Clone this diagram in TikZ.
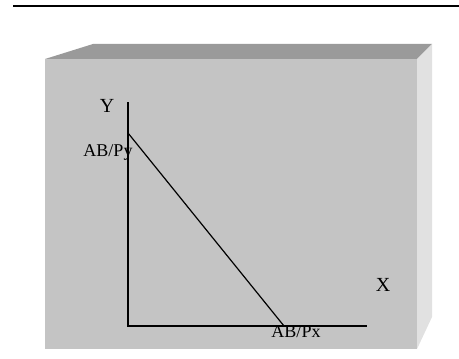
\documentclass[tikz,border=0pt]{standalone}
\usepackage{fontspec}
\setmainfont{Liberation Serif}
\usepackage{tikz}

\definecolor{frontgray}{HTML}{C4C4C4}
\definecolor{topgray}{HTML}{9A9A9A}
\definecolor{sidegray}{HTML}{E1E1E1}

\begin{document}
\begin{tikzpicture}[x=0.5pt,y=-0.5pt,
  axis/.style={line width=1pt},
  lbl/.style={inner sep=0pt,font=\fontsize{9}{10}\selectfont},
  axlbl/.style={inner sep=0pt,font=\fontsize{10}{11}\selectfont}]
 \useasboundingbox (0,0) rectangle (459,358);
 % rule on top
 \draw[line width=1pt] (13,6)--(459,6);
 % box
 \fill[topgray] (45,59)--(93,44)--(432,44)--(417,59)--cycle;
 \fill[sidegray] (417,59)--(432,44)--(432,317)--(417,349)--cycle;
 \fill[frontgray] (45,59) rectangle (417,349);
 % axes
 \coordinate (O) at (128,326);
 \coordinate (ytop) at (128,102);
 \coordinate (xend) at (367,326);
 \coordinate (yint) at (128,133);
 \coordinate (xint) at (284,326);
 \draw[axis] (ytop)--(O)--(xend);
 \draw[line width=0.6pt] (yint)--(xint);
 \node[axlbl] (ylab) at (107,106) {Y};
 \node[axlbl] (xlab) at (383,285) {X};
 \node[lbl] (pylab) at (108,152) {AB/Py};
 \node[lbl] (pxlab) at (296,332) {AB/Px};
\end{tikzpicture}
\end{document}
